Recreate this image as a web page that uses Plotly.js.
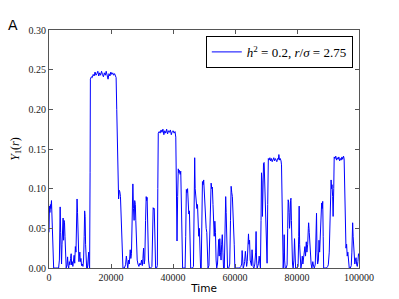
<!DOCTYPE html>
<html>
<head>
<meta charset="utf-8">
<script src="https://cdn.plot.ly/plotly-3.0.1.min.js"></script>
<style>html,body{margin:0;padding:0;background:#fff;}#chart{width:399px;height:299px;}</style>
</head>
<body>
<div id="chart"></div>
<script>
// ---- data ----
const seriesName = "<i>h</i><sup>2</sup> = 0.2, <i>r</i>/<i>σ</i> = 2.75";
const time = [
0,150,300,450,600,800,950,1100,1300,1500,2000,2600,3100,3350,3500,3600,3750,3900,4050,4200,4400,4550,4700,4850,5000,5150,5350,5550,5800,6000,6150,6350,6550,6750,6950,7150,7300,7500,7700,7900,8100,8300,8500,8700,8900,9050,9200,9350,9500,9650,9800,9950,10100,10300,10500,10750,10950,11150,11350,11500,11650,11800,11950,12150,12400,12600,12800,12950,13100,13250,13350,
13650,13950,14250,14550,14850,15150,15450,15750,16050,16350,16650,16950,17250,17550,17850,18150,18450,18750,19050,19350,19650,19950,20250,20550,20850,21150,21450,21650,
21850,22050,22250,22450,22650,22850,23050,23250,23450,23650,23850,24300,24700,24950,25150,25400,25700,25900,26200,26400,26600,26800,27050,27250,27450,27650,27850,28000,28200,28450,28700,29000,29300,29600,29850,30100,30300,30500,30700,30900,31150,31350,31500,31650,31850,32100,32400,32800,33200,33450,33600,33800,33950,34150,34400,34700,34950,35100,35250,
35550,35850,36150,36450,36750,37050,37350,37650,37950,38250,38550,38850,39150,39450,39750,40050,40350,40650,40900,
41100,41300,41500,41700,41900,42100,42300,42500,42700,42900,43100,43500,43900,44100,44300,44500,44700,44900,45100,45300,45500,45700,46000,46300,46600,46850,47000,47150,47350,47550,47700,47900,48100,48300,48500,48700,48900,49100,49300,49500,49700,49900,50100,50300,50500,50700,50900,51100,51300,51600,51900,52100,52300,52500,52700,52900,53100,53300,53500,53700,53900,54100,54350,54550,54750,54900,55100,55300,55500,55700,55900,56100,56300,56550,56800,57000,57150,57300,57450,57600,58000,58300,58550,58750,58950,59150,59350,59550,59750,59950,60500,61000,61500,61900,62150,62300,62450,62650,62900,63100,63350,63550,63750,63950,64150,64350,64500,64700,64900,65100,65300,65500,65650,65850,66100,66400,66650,66800,66950,67150,67400,67600,67800,68000,68200,68400,68550,68700,68850,69000,69200,69400,69550,69750,69950,70150,70350,70550,70750,
71000,71250,71500,71750,72000,72250,72500,72750,73000,73250,73500,73750,74000,74150,74350,74600,74850,75000,
75200,75350,75550,75750,75870,76000,76200,76500,76800,77000,77150,77300,77450,77600,77750,77900,78050,78200,78400,78550,78750,79000,79200,79350,79550,80000,80350,80550,80700,80850,81000,81250,81500,81700,81900,82100,82350,82550,82750,83000,83200,83450,83650,83750,83950,84150,84350,84550,84800,85100,85350,85600,85900,86100,86300,86450,86650,86900,87100,87300,87550,87800,87950,88150,88300,88450,88600,89000,89500,89900,90100,90400,90600,90800,91000,91150,91300,91500,91650,91850,92000,
92250,92500,92750,93000,93250,93500,93750,94000,94250,94500,94750,95000,95200,
95400,95600,95800,96000,96200,96400,96650,96850,97200,97500,97700,97850,97950,98100,98300,98450,98650,98850,99050,99250,99450,99650,99850,100000
];
const y1 = [
0.045,0.078,0.07,0.08,0.075,0.085,0.06,0.045,0.02,0.0,0.0,0.0,0.0,0.01,0.05,0.077,0.045,0.012,0.005,0.03,0.055,0.063,0.035,0.06,0.057,0.04,0.015,0.0,0.004,0.014,0.003,0.0,0.008,0.004,0.012,0.018,0.004,0.008,0.002,0.01,0.016,0.006,0.027,0.02,0.05,0.087,0.07,0.03,0.02,0.008,0.015,0.02,0.008,0.012,0.003,0.005,0.002,0.01,0.04,0.072,0.065,0.03,0.008,0.0,0.0,0.008,0.02,0.004,0.0,0.12,0.238,
0.241,0.24,0.244,0.242,0.247,0.243,0.245,0.248,0.242,0.246,0.243,0.248,0.244,0.241,0.246,0.243,0.248,0.244,0.238,0.245,0.242,0.247,0.244,0.246,0.243,0.245,0.242,0.24,
0.2,0.15,0.09,0.087,0.098,0.096,0.09,0.06,0.045,0.02,0.0,0.0,0.004,0.015,0.003,0.0,0.01,0.005,0.023,0.012,0.018,0.05,0.106,0.075,0.06,0.085,0.08,0.06,0.02,0.01,0.005,0.002,0.006,0.004,0.01,0.003,0.012,0.025,0.005,0.01,0.06,0.09,0.085,0.089,0.04,0.01,0.0,0.0,0.002,0.05,0.076,0.074,0.075,0.03,0.0,0.0,0.003,0.1,0.17,
0.172,0.17,0.174,0.171,0.175,0.168,0.173,0.17,0.175,0.169,0.173,0.171,0.174,0.168,0.172,0.173,0.17,0.172,0.165,
0.12,0.034,0.09,0.125,0.12,0.123,0.118,0.122,0.08,0.03,0.0,0.0,0.0,0.04,0.099,0.095,0.1,0.085,0.068,0.072,0.03,0.0,0.0,0.0,0.002,0.06,0.139,0.1,0.088,0.09,0.075,0.08,0.06,0.04,0.05,0.01,0.0,0.0,0.05,0.109,0.105,0.111,0.09,0.07,0.065,0.05,0.045,0.02,0.0,0.003,0.06,0.105,0.107,0.1,0.102,0.08,0.06,0.04,0.059,0.045,0.01,0.0,0.005,0.03,0.036,0.015,0.037,0.02,0.01,0.03,0.042,0.02,0.0,0.0,0.04,0.09,0.07,0.05,0.02,0.0,0.0,0.005,0.06,0.103,0.095,0.09,0.075,0.06,0.03,0.0,0.0,0.0,0.0,0.002,0.005,0.022,0.005,0.0,0.003,0.008,0.021,0.01,0.002,0.008,0.02,0.043,0.03,0.035,0.01,0.005,0.003,0.023,0.005,0.002,0.0,0.005,0.02,0.046,0.01,0.0,0.003,0.006,0.015,0.0,0.0,0.06,0.12,0.11,0.065,0.125,0.132,0.133,0.11,0.06,0.03,0.012,0.006,0.08,0.138,
0.136,0.139,0.135,0.138,0.134,0.137,0.139,0.135,0.138,0.136,0.134,0.138,0.137,0.143,0.136,0.138,0.135,0.13,
0.05,0.002,0.0,0.02,0.042,0.01,0.0,0.0,0.004,0.05,0.086,0.083,0.07,0.05,0.06,0.085,0.088,0.06,0.02,0.005,0.0,0.01,0.037,0.01,0.0,0.0,0.002,0.04,0.078,0.03,0.002,0.0,0.005,0.015,0.005,0.01,0.02,0.027,0.015,0.033,0.02,0.03,0.05,0.057,0.045,0.03,0.01,0.005,0.0,0.008,0.002,0.0,0.005,0.04,0.069,0.02,0.005,0.01,0.035,0.02,0.045,0.07,0.082,0.075,0.084,0.04,0.0,0.0,0.0,0.002,0.004,0.02,0.05,0.09,0.111,0.1,0.105,0.09,0.065,0.1,0.14,
0.138,0.141,0.136,0.139,0.137,0.14,0.135,0.138,0.136,0.14,0.137,0.141,0.138,
0.09,0.04,0.025,0.03,0.015,0.02,0.005,0.0,0.0,0.003,0.02,0.045,0.057,0.04,0.03,0.012,0.005,0.01,0.013,0.004,0.002,0.008,0.018,0.015
];
const xTickVals = [0, 20000, 40000, 60000, 80000, 100000];
const xTickText = ["0", "20000", "40000", "60000", "80000", "100000"];
const yTickVals = [0.00, 0.05, 0.10, 0.15, 0.20, 0.25, 0.30];
const yTickText = ["0.00", "0.05", "0.10", "0.15", "0.20", "0.25", "0.30"];
const xLabel = "Time";
const yLabel = "<i>Y</i><sub>1</sub>(<i>r</i>)";
const panelLabel = "A";

// ---- chart ----
const serif = "Liberation Serif, DejaVu Serif, serif";
const sans = "DejaVu Sans, sans-serif";
const frame = "#555";

const trace = {
  x: time, y: y1, type: "scatter", mode: "lines",
  name: seriesName,
  line: {color: "#0000ff", width: 1},
  showlegend: true
};

const axisCommon = {
  showgrid: false, zeroline: false, showline: true, linecolor: frame, linewidth: 1,
  mirror: "ticks", ticks: "inside", ticklen: 4, tickcolor: frame, tickwidth: 1,
  tickfont: {family: serif, size: 10, color: "#222"}
};

const layout = {
  width: 399, height: 299,
  margin: {l: 49, r: 40, t: 30, b: 31, pad: 0},
  paper_bgcolor: "#fff", plot_bgcolor: "#fff",
  xaxis: Object.assign({}, axisCommon, {
    range: [0, 100000], tickmode: "array", tickvals: xTickVals, ticktext: xTickText,
    title: {text: xLabel, font: {family: sans, size: 10.5, color: "#000"}, standoff: 2}
  }),
  yaxis: Object.assign({}, axisCommon, {
    range: [0, 0.30], tickmode: "array", tickvals: yTickVals, ticktext: yTickText,
    title: {text: yLabel, font: {family: serif, size: 12, color: "#000"}, standoff: 6}
  }),
  legend: {
    x: 0.98, y: 0.975, xanchor: "right", yanchor: "top",
    bgcolor: "#fff", bordercolor: "#000", borderwidth: 1,
    font: {family: serif, size: 13, color: "#000"}
  },
  annotations: [{
    text: panelLabel, xref: "paper", yref: "paper", x: -0.14, y: 1.02,
    xanchor: "left", yanchor: "middle", showarrow: false,
    font: {family: sans, size: 14, color: "#000"}
  }]
};

Plotly.newPlot("chart", [trace], layout, {staticPlot: true, displayModeBar: false});
</script>
</body>
</html>
